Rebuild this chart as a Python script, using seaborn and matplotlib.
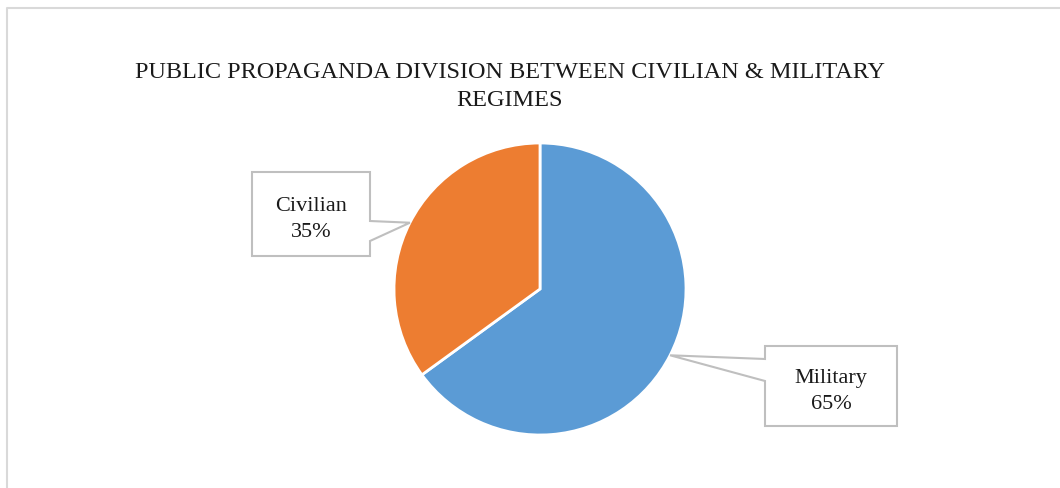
import numpy as np
import matplotlib.pyplot as plt
import seaborn as sns
from matplotlib.patches import Polygon

# Data
labels = ["Military", "Civilian"]
shares = [65, 35]
colors = ["#5B9BD5", "#ED7D31"]

sns.set_style("white")
plt.rcParams["font.family"] = ["Liberation Serif", "DejaVu Serif"]

W, H = 1060, 489
fig = plt.figure(figsize=(W / 100, H / 100), dpi=100)
ax = fig.add_axes([0, 0, 1, 1])

# Chart frame
ax.plot([7, 7, W + 5], [-5, H - 9, H - 9], color="#D9D9D9", lw=1.5)

# Pie
cx, cy, r = 540, H - 290, 146
wedges, _ = ax.pie(shares, colors=colors, startangle=90, counterclock=False,
                   center=(cx, cy), radius=r,
                   wedgeprops=dict(edgecolor="white", linewidth=2))
ax.set_xlim(0, W)
ax.set_ylim(0, H)
ax.set_aspect("equal")
ax.axis("off")

ax.text(510, H - 73, "PUBLIC PROPAGANDA DIVISION BETWEEN CIVILIAN & MILITARY",
        ha="center", va="center", fontsize=17.5, color="#1a1a1a")
ax.text(510, H - 101, "REGIMES", ha="center", va="center", fontsize=17.5,
        color="#1a1a1a")

# Callout boxes (left, top, right, bottom in pixels from top), pointer side
boxes = {
    "Military": (765, 347, 897, 427, "left", 360, 382),
    "Civilian": (252, 173, 370, 257, "right", 222, 242),
}

for w, lab, val in zip(wedges, labels, shares):
    mid = np.deg2rad((w.theta1 + w.theta2) / 2)
    tip = (cx + r * np.cos(mid), cy + r * np.sin(mid))
    x0, t, x1, b, side, p0, p1 = boxes[lab]
    yt, yb, yp0, yp1 = H - t, H - b, H - p0, H - p1
    if side == "right":
        pts = [(x0, yt), (x1, yt), (x1, yp0), tip, (x1, yp1), (x1, yb), (x0, yb)]
    else:
        pts = [(x0, yt), (x1, yt), (x1, yb), (x0, yb), (x0, yp1), tip, (x0, yp0)]
    ax.add_patch(Polygon(pts, closed=True, facecolor="white",
                         edgecolor="#BFBFBF", lw=1.5, zorder=5))
    ax.text((x0 + x1) / 2, (yt + yb) / 2 - 5, f"{lab}\n{val}%", ha="center",
            va="center", fontsize=16, color="#1a1a1a", linespacing=1.5,
            zorder=6)

fig.savefig("out.png", dpi=100)
